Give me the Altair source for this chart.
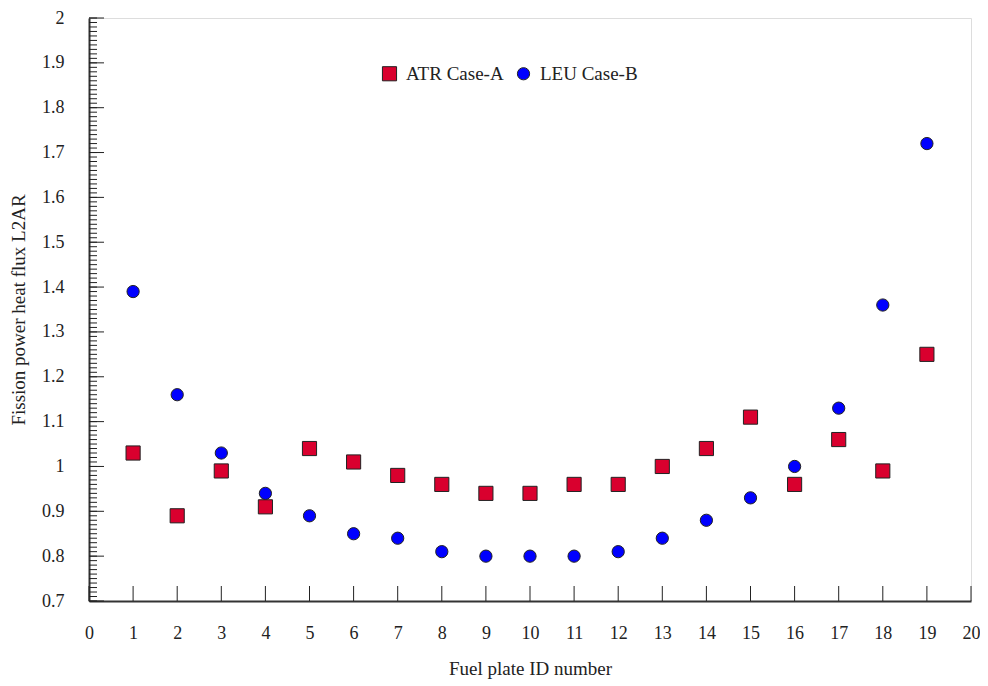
import altair as alt
import pandas as pd

plates = list(range(1, 20))
atr_case_a = [1.03, 0.89, 0.99, 0.91, 1.04, 1.01, 0.98, 0.96, 0.94, 0.94,
              0.96, 0.96, 1.00, 1.04, 1.11, 0.96, 1.06, 0.99, 1.25]
leu_case_b = [1.39, 1.16, 1.03, 0.94, 0.89, 0.85, 0.84, 0.81, 0.80, 0.80,
              0.80, 0.81, 0.84, 0.88, 0.93, 1.00, 1.13, 1.36, 1.72]
series_names = ["ATR Case-A", "LEU Case-B"]
x_ticks = list(range(0, 21))
y_major = [round(0.7 + i * 0.1, 2) for i in range(14)]
y_minor = [round(0.7 + i * 0.01, 2) for i in range(131)]

FONT = "Liberation Serif"
W, H = 882, 583

df = pd.DataFrame({
    "plate": plates * 2,
    "value": atr_case_a + leu_case_b,
    "series": [series_names[0]] * len(plates) + [series_names[1]] * len(plates),
})

xs = alt.Scale(domain=[0, 20], nice=False, zero=False)
ys = alt.Scale(domain=[0.7, 2.0], nice=False, zero=False)

x_axis = alt.Axis(values=x_ticks, title="Fuel plate ID number", grid=False,
                  ticks=False, domainWidth=2, domainColor="#333",
                  labelFont=FONT, labelFontSize=18, labelColor="#222",
                  labelPadding=23, titleFont=FONT, titleFontSize=19,
                  titleFontWeight="normal", titleColor="#222", titlePadding=17,
                  labelFlush=False)
y_axis = alt.Axis(values=y_major, format="~g", title="Fission power heat flux L2AR",
                  grid=False, ticks=False, domainWidth=2, domainColor="#333",
                  labelFont=FONT, labelFontSize=18, labelColor="#222",
                  labelPadding=25, titleFont=FONT, titleFontSize=19,
                  titleFontWeight="normal", titleColor="#222", titlePadding=13,
                  labelFlush=False)

points = alt.Chart(df).mark_point(filled=True, stroke="#222", strokeWidth=1, opacity=1).encode(
    x=alt.X("plate:Q", scale=xs, axis=x_axis),
    y=alt.Y("value:Q", scale=ys, axis=y_axis),
    color=alt.Color("series:N", scale=alt.Scale(domain=series_names, range=["#d9002e", "#0000ff"]),
                    legend=alt.Legend(title=None, orient="none", legendX=291, legendY=46,
                                      direction="horizontal", labelFont=FONT, labelFontSize=19,
                                      labelColor="#222", symbolSize=170, symbolStrokeColor="#222",
                                      symbolStrokeWidth=1, columnPadding=10, labelOffset=7)),
    shape=alt.Shape("series:N", scale=alt.Scale(domain=series_names, range=["square", "circle"])),
    size=alt.Size("series:N", scale=alt.Scale(domain=series_names, range=[200, 150]), legend=None),
)

ymin_df = pd.DataFrame({"t": y_minor})
ymaj_df = pd.DataFrame({"t": y_major})
x_df = pd.DataFrame({"t": x_ticks})

y_minor_rules = alt.Chart(ymin_df).mark_rule(color="#222", strokeWidth=1).encode(
    y=alt.Y("t:Q", scale=ys, axis=y_axis), x=alt.value(0), x2=alt.value(8))
y_major_rules = alt.Chart(ymaj_df).mark_rule(color="#222", strokeWidth=1).encode(
    y=alt.Y("t:Q", scale=ys, axis=y_axis), x=alt.value(0), x2=alt.value(15))
x_rules = alt.Chart(x_df).mark_rule(color="#222", strokeWidth=1).encode(
    x=alt.X("t:Q", scale=xs, axis=x_axis), y=alt.value(H), y2=alt.value(H - 15))

chart = alt.layer(points, y_minor_rules, y_major_rules, x_rules).properties(
    width=W, height=H,
    autosize=alt.AutoSizeParams(type="none"),
    padding={"left": 81, "top": 10, "right": 9, "bottom": 82},
).configure_view(stroke="#000", strokeWidth=1.2).configure(background="white")

chart.save("out.html", embed_options={"renderer": "svg", "actions": False})
